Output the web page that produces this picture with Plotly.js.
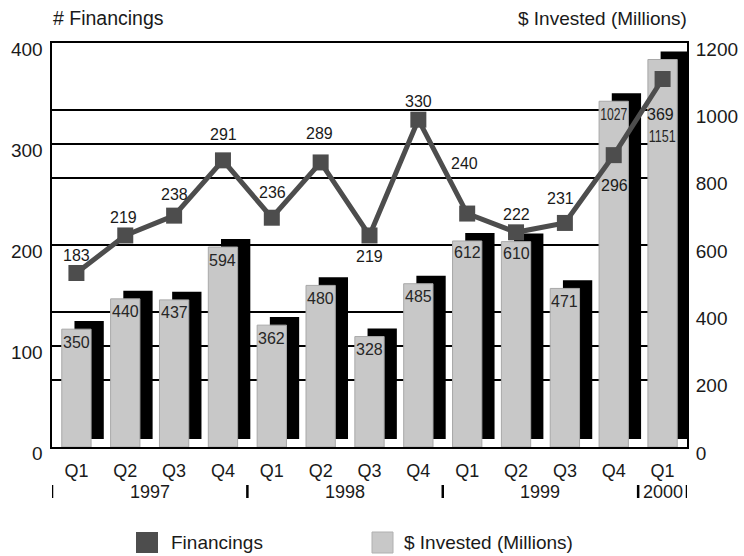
<!DOCTYPE html>
<html>
<head>
<meta charset="utf-8">
<script src="https://cdn.plot.ly/plotly-3.0.1.min.js"></script>
<style>html,body{margin:0;padding:0;background:#fff;}#chart{width:744px;height:556px;}</style>
</head>
<body>
<div id="chart"></div>
<script>
// ---- data ----
const quarters = ['Q1','Q2','Q3','Q4','Q1','Q2','Q3','Q4','Q1','Q2','Q3','Q4','Q1'];
const years = ['1997','1997','1997','1997','1998','1998','1998','1998','1999','1999','1999','1999','2000'];
const financings = [183,219,238,291,236,289,219,330,240,222,231,296,369];
const invested = [350,440,437,594,362,480,328,485,612,610,471,1027,1151];

// ---- styling (label offsets in pixels) ----
const lineLabelDx = [0,-2,0,1,1,-1,0,0,-3,0,-4,1,-2];
const lineLabelDy = [18,18,21,26,25,29,-21,18,50,18,24,-30,-36];
const barLabelDy = [-13,-13,-13,-13,-13,-13,-13,-13,-12,-12,-13,-13,-77];

const FONT = 'Liberation Sans, Arial, sans-serif';
const TXT = '#1a1a1a';
const LINEC = '#4d4d4d';
const BARC = '#c8c8c8';

const idx = quarters.map((_, i) => i);

// plot area in pixels (for legend / header placement)
const PL = 52, PR = 687, PT = 43, PB = 447;
const px2x = x => (x - PL) / (PR - PL);
const px2y = y => (PB - y) / (PB - PT);

const traces = [
  // empty trace so the left (# Financings) axis owns a subplot
  { type: 'scatter', mode: 'markers', x: [], y: [], yaxis: 'y', hoverinfo: 'skip', showlegend: false },
  { type: 'bar', x: idx, y: invested, base: 24, offset: -0.04, width: 0.6,
    yaxis: 'y2', marker: { color: '#000000', line: { width: 0 } },
    hoverinfo: 'skip', showlegend: false },
  { type: 'bar', x: idx, y: invested, offset: -0.3, width: 0.6,
    yaxis: 'y2', marker: { color: BARC, line: { color: '#a8a8a8', width: 1 } },
    name: '$ Invested (Millions)', showlegend: false },
  { type: 'scatter', mode: 'lines+markers', x: idx, y: financings, yaxis: 'y3',
    line: { color: LINEC, width: 5 },
    marker: { symbol: 'square', size: 16, color: LINEC },
    name: 'Financings', showlegend: false }
];

const annotations = [];
financings.forEach((v, i) => annotations.push({
  x: i, y: v, xref: 'x', yref: 'y3', text: String(v), showarrow: false,
  xshift: lineLabelDx[i], yshift: lineLabelDy[i],
  font: { family: FONT, size: 16, color: TXT }
}));
invested.forEach((v, i) => {
  annotations.push({
    x: i, y: v, xref: 'x', yref: 'y2', text: String(v), showarrow: false,
    yshift: barLabelDy[i],
    font: { family: FONT, size: 16, color: '#262626' }
  });
});

// year group labels & separators
const shapes = [];
const groups = [];
years.forEach((y, i) => {
  if (!groups.length || groups[groups.length - 1].year !== y) groups.push({ year: y, start: i, end: i });
  else groups[groups.length - 1].end = i;
});
groups.forEach(g => {
  annotations.push({ x: (g.start + g.end) / 2, y: px2y(492), xref: 'x', yref: 'paper',
    text: g.year, showarrow: false, yanchor: 'middle',
    font: { family: FONT, size: 18, color: TXT } });
  shapes.push({ type: 'line', xref: 'x', yref: 'paper', x0: g.start - 0.5, x1: g.start - 0.5,
    y0: px2y(485), y1: px2y(498), line: { color: '#000', width: 2.5 } });
});
const lastG = groups[groups.length - 1];
shapes.push({ type: 'line', xref: 'x', yref: 'paper', x0: lastG.end + 0.5, x1: lastG.end + 0.5,
  y0: px2y(485), y1: px2y(498), line: { color: '#000', width: 2.5 } });

// axis headers
annotations.push({ x: px2x(51), y: px2y(18), xref: 'paper', yref: 'paper', xanchor: 'left', yanchor: 'middle',
  text: '# Financings', showarrow: false, font: { family: FONT, size: 19.5, color: TXT } });
annotations.push({ x: px2x(689), y: px2y(19), xref: 'paper', yref: 'paper', xanchor: 'right', yanchor: 'middle',
  text: '$ Invested (Millions)', showarrow: false, font: { family: FONT, size: 19, color: TXT } });

// custom legend
shapes.push({ type: 'rect', xref: 'paper', yref: 'paper', x0: px2x(136), x1: px2x(158), y0: px2y(532), y1: px2y(553),
  fillcolor: LINEC, line: { width: 0 } });
shapes.push({ type: 'rect', xref: 'paper', yref: 'paper', x0: px2x(372), x1: px2x(393), y0: px2y(532), y1: px2y(553),
  fillcolor: BARC, line: { color: '#b0b0b0', width: 1 } });
annotations.push({ x: px2x(169), y: px2y(542), xref: 'paper', yref: 'paper', xanchor: 'left', yanchor: 'middle',
  text: 'Financings', showarrow: false, font: { family: FONT, size: 19, color: TXT } });
annotations.push({ x: px2x(402), y: px2y(542), xref: 'paper', yref: 'paper', xanchor: 'left', yanchor: 'middle',
  text: '$ Invested (Millions)', showarrow: false, font: { family: FONT, size: 19, color: TXT } });

const layout = {
  width: 744, height: 556,
  margin: { l: PL, r: 744 - PR, t: PT, b: 556 - PB, pad: 0 },
  paper_bgcolor: '#fff', plot_bgcolor: '#fff',
  barmode: 'overlay', showlegend: false,
  font: { family: FONT, color: TXT },
  xaxis: { range: [-0.5, 12.5], tickmode: 'array', tickvals: idx, ticktext: quarters,
    showline: true, linecolor: '#000', linewidth: 2, mirror: true,
    showgrid: false, zeroline: false, ticks: '', ticklabelstandoff: 6,
    tickfont: { family: FONT, size: 18, color: TXT }, fixedrange: true },
  yaxis: { range: [0, 400], tickmode: 'linear', dtick: 100,
    showgrid: true, gridcolor: '#000', gridwidth: 2,
    showline: true, linecolor: '#000', linewidth: 2.5, zeroline: false, ticks: '',
    ticklabelshift: 6, ticklabelstandoff: 3,
    tickfont: { family: FONT, size: 19, color: TXT } },
  yaxis2: { overlaying: 'y', side: 'right', range: [0, 1200], tickmode: 'linear', dtick: 200,
    showgrid: true, gridcolor: '#000', gridwidth: 2,
    showline: true, linecolor: '#000', linewidth: 2, zeroline: false, ticks: '',
    ticklabelshift: 6, ticklabelstandoff: 3,
    tickfont: { family: FONT, size: 19, color: TXT } },
  yaxis3: { overlaying: 'y', range: [16.2, 403.5], visible: false },
  annotations: annotations,
  shapes: shapes
};

Plotly.newPlot('chart', traces, layout, { displayModeBar: false, staticPlot: true }).then(gd => {
  // four-digit bar labels are set in a condensed face in the reference: squeeze them horizontally
  const wide = invested.filter(v => String(v).length > 3).map(String);
  gd.querySelectorAll('.annotation-text').forEach(t => {
    if (wide.includes(t.textContent)) {
      t.setAttribute('textLength', '27');
      t.setAttribute('lengthAdjust', 'spacingAndGlyphs');
    }
  });
});
</script>
</body>
</html>
